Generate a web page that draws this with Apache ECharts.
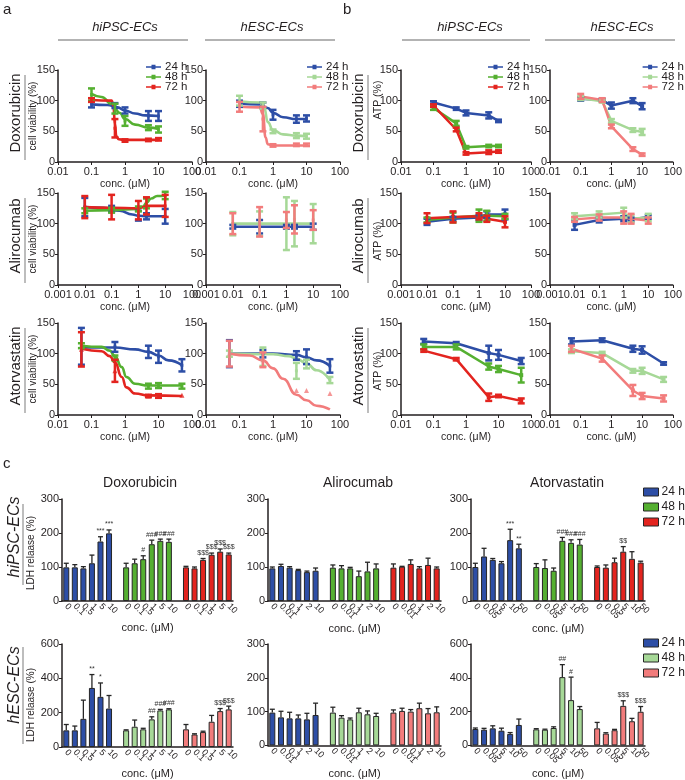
<!DOCTYPE html>
<html><head><meta charset="utf-8">
<script src="https://cdn.jsdelivr.net/npm/echarts@6/dist/echarts.min.js"></script>
<style>html,body{margin:0;padding:0;background:#fff}#chart{width:685px;height:780px}</style>
</head><body><div id="chart"></div>
<script>
// ================= DATA =================
const timeLabels = ['24 h', '48 h', '72 h'];
const drugs = ['Doxorubicin', 'Alirocumab', 'Atorvastatin'];
const cellLines = ['hiPSC-ECs', 'hESC-ECs'];

const concDox = [0.1, 0.5, 1, 5, 10];
const concAli = [0.01, 0.1, 1, 2, 10];
const concAtor = [0.05, 0.5, 5, 10, 50];

// ---- a: cell viability (%) — rows: 24 h, 48 h, 72 h ----
const viabIpscDox = [[94, 92, 84, 75, 75], [110, 87, 67, 56, 53], [101, 55, 35, 36, 37]];
const viabIpscDoxErr = [[5, 4, 5, 8, 8], [10, 8, 8, 4, 5], [3, 15, 2, 2, 2]];
const viabIpscDoxFit = [
  [[0.1, 94], [0.3, 93], [0.6, 89], [1, 84], [2, 79], [4, 76], [10, 75]],
  [[0.1, 111], [0.2, 106], [0.4, 95], [0.7, 80], [1, 70], [2, 61], [5, 56], [10, 54]],
  [[0.1, 101], [0.4, 100], [0.45, 92], [0.5, 62], [0.55, 42], [0.65, 37], [1, 36], [10, 36]]
];
const viabHescDox = [[95, 93, 77, 70, 71], [100, 92, 50, 43, 42], [90, 70, 27, 28, 28]];
const viabHescDoxErr = [[5, 4, 8, 6, 5], [8, 5, 3, 4, 4], [8, 20, 2, 2, 2]];
const viabHescDoxFit = [
  [[0.1, 95], [0.4, 94], [0.7, 88], [1, 80], [2, 73], [5, 70], [10, 70]],
  [[0.1, 99], [0.4, 97], [0.55, 88], [0.7, 65], [1, 52], [2, 45], [5, 43], [10, 42]],
  [[0.1, 90], [0.4, 89], [0.5, 78], [0.6, 40], [0.7, 29], [1, 27], [10, 27]]
];
const viabIpscAli = [[127, 124, 113, 112, 112], [121, 122, 124, 133, 146], [127, 127, 122, 129, 129]];
const viabIpscAliErr = [[15, 5, 8, 5, 12], [4, 4, 4, 8, 6], [18, 20, 15, 14, 18]];
const viabIpscAliFit = [
  [[0.01, 127], [0.05, 126], [0.2, 121], [0.6, 115], [1, 113], [2, 112], [10, 112]],
  [[0.01, 121], [0.1, 122], [1, 124], [1.5, 128], [2, 134], [3, 141], [5, 145], [10, 146]],
  [[0.01, 127], [0.1, 126], [1, 125], [1.5, 127], [2, 129], [10, 129]]
];
const viabHescAli = [[95, 95, 95, 95, 95], [100, 100, 100, 100, 100], [100, 103, 106, 107, 106]];
const viabHescAliErr = [[3, 11, 3, 3, 5], [19, 20, 43, 37, 32], [17, 24, 13, 23, 16]];
const viabHescAliFit = [
  [[0.01, 95], [10, 95]],
  [[0.01, 100], [10, 100]],
  []
];
const viabIpscAtor = [[112, 111, 103, 95, 81], [113, 93, 47, 48, 47], [107, 72, 31, 31, 32]];
const viabIpscAtorErr = [[30, 8, 10, 10, 10], [4, 4, 4, 4, 4], [28, 18, 2, 3, 0]];
const viabIpscAtorFit = [
  [[0.05, 110], [0.5, 110], [2, 107], [5, 103], [10, 97], [20, 89], [50, 81]],
  [[0.05, 113], [0.2, 111], [0.35, 105], [0.5, 96], [0.8, 78], [1.1, 62], [2, 51], [5, 48], [50, 48]],
  [[0.05, 108], [0.2, 104], [0.35, 96], [0.5, 86], [0.8, 62], [1.1, 45], [2, 35], [5, 32], [50, 31]]
];
const viabHescAtor = [[100, 100, 97, 95, 80], [100, 95, 72, 83, 57], [100, 90, 40, 40, 35]];
const viabHescAtorErr = [[22, 6, 7, 12, 11], [5, 15, 13, 7, 5], [21, 12, 0, 0, 0]];
const viabHescAtorFit = [
  [[0.05, 100], [1, 100], [5, 98], [10, 94], [20, 89], [50, 80]],
  [[0.05, 100], [1, 99], [3, 96], [5, 92], [10, 84], [20, 73], [50, 57]],
  [[0.05, 100], [0.2, 97], [0.5, 89], [1, 76], [2, 59], [5, 33], [10, 24], [20, 15], [50, 9]]
];

// ---- b: ATP (%) ----
const atpIpscDox = [[97, 87, 80, 76, 67], [88, 63, 24, 26, 26], [92, 53, 14, 16, 17]];
const atpIpscDoxErr = [[2, 2, 4, 5, 2], [3, 4, 2, 2, 2], [2, 3, 2, 3, 2]];
const atpHescDox = [[103, 101, 92, 100, 91], [104, 99, 67, 52, 49], [107, 101, 58, 21, 12]];
const atpHescDoxErr = [[3, 2, 5, 4, 5], [3, 2, 3, 3, 5], [4, 3, 3, 3, 2]];
const atpIpscAli = [[103, 108, 110, 115, 115], [106, 110, 113, 113, 112], [109, 111, 112, 108, 103]];
const atpIpscAliErr = [[5, 3, 4, 5, 8], [4, 8, 10, 8, 4], [8, 9, 5, 5, 9]];
const atpHescAli = [[98, 106, 108, 107, 111], [112, 115, 118, 108, 110], [107, 110, 110, 108, 105]];
const atpHescAliErr = [[8, 4, 4, 3, 3], [5, 5, 8, 6, 6], [4, 5, 10, 8, 5]];
const atpIpscAtor = [[120, 117, 101, 98, 88], [111, 111, 79, 75, 65], [105, 91, 29, 31, 23]];
const atpIpscAtorErr = [[4, 2, 12, 8, 5], [4, 4, 5, 5, 12], [2, 2, 6, 2, 4]];
const atpHescAtor = [[120, 122, 108, 106, 84], [104, 101, 72, 72, 58], [108, 92, 40, 31, 27]];
const atpHescAtorErr = [[5, 3, 5, 6, 2], [3, 2, 3, 5, 4], [5, 5, 9, 5, 5]];

// ---- c: LDH release (%) ----
const ldhConcDox = ['0', '0.1', '0.5', '1', '5', '10'];
const ldhConcAli = ['0', '0.01', '0.1', '1', '2', '10'];
const ldhConcAtor = ['0', '0.05', '0.5', '5', '10', '50'];

const ldhIpscDox = [[99, 99, 96, 111, 175, 199], [99, 111, 123, 167, 177, 174], [99, 96, 121, 136, 145, 137]];
const ldhIpscDoxErr = [[12, 8, 5, 24, 14, 10], [12, 12, 10, 12, 5, 8], [3, 4, 4, 5, 8, 4]];
const ldhIpscDoxSig = [['', '', '', '', '***', '***'], ['', '', '#', '###', '###', '###'], ['', '', '$$$', '$$$', '$$$', '$$$']];
const ldhIpscAli = [[96, 103, 98, 91, 85, 89], [98, 96, 96, 73, 87, 96], [98, 101, 109, 96, 106, 96]];
const ldhIpscAliErr = [[4, 5, 3, 2, 3, 8], [8, 8, 3, 15, 27, 13], [11, 1, 12, 5, 20, 4]];
const ldhIpscAtor = [[100, 131, 121, 111, 179, 155], [100, 97, 89, 177, 171, 166], [100, 98, 114, 145, 124, 113]];
const ldhIpscAtorErr = [[11, 24, 4, 5, 32, 12], [10, 24, 8, 10, 9, 15], [3, 8, 12, 15, 21, 4]];
const ldhIpscAtorSig = [['', '', '', '', '***', '**'], ['', '', '', '###', '###', '###'], ['', '', '', '$$', '', '']];

const ldhHescDox = [[97, 97, 164, 344, 292, 224], [97, 118, 103, 161, 213, 219], [103, 73, 87, 147, 209, 219]];
const ldhHescDoxErr = [[34, 25, 109, 78, 81, 76], [3, 39, 6, 15, 6, 4], [28, 4, 5, 37, 15, 19]];
const ldhHescDoxSig = [['', '', '', '**', '*', ''], ['', '', '', '##', '###', '###'], ['', '', '', '', '$$$', '$$$']];
const ldhHescAli = [[97, 83, 80, 80, 77, 90], [97, 82, 77, 98, 92, 87], [97, 102, 100, 110, 95, 98]];
const ldhHescAliErr = [[10, 18, 18, 10, 18, 35], [16, 6, 4, 12, 10, 8], [8, 8, 6, 15, 14, 16]];
const ldhHescAtor = [[97, 93, 101, 87, 68, 121], [95, 93, 103, 404, 268, 215], [101, 70, 90, 234, 143, 199]];
const ldhHescAtorErr = [[6, 8, 15, 15, 8, 35], [4, 3, 7, 74, 136, 15], [35, 5, 5, 30, 17, 31]];
const ldhHescAtorSig = [['', '', '', '', '', ''], ['', '', '', '##', '#', ''], ['', '', '', '$$$', '', '$$$']];

// ================= STYLE =================
const FONT = '"Liberation Sans", Arial, Helvetica, sans-serif';
const AX = '#231f20';
const TXT = '#231f20';
const COL_IPSC = ['#2d4ea6', '#55b031', '#e3241f'];
const COL_HESC = ['#2d4ea6', '#a6d897', '#f27c7c'];
const LINE_ICON = 'path://M0,2.3H5.5V0.8H9.5V2.3H15V3.7H9.5V5.2H5.5V3.7H0Z';

const option = {
  animation: false,
  backgroundColor: '#fff',
  textStyle: { fontFamily: FONT },
  grid: [], xAxis: [], yAxis: [], series: [], legend: [], graphic: []
};

function fmtLog(v) { return String(parseFloat(Number(v).toPrecision(3))); }

function errSeries(g, pts, errs, col, lw, cap, both, sig) {
  return {
    type: 'custom', xAxisIndex: g, yAxisIndex: g, z: 6, silent: true,
    data: pts.map((p, i) => [p[0], p[1], errs[i]]),
    encode: { x: 0, y: 1 },
    renderItem: function (params, api) {
      const x = api.value(0), y = api.value(1), e = api.value(2);
      const s = sig ? sig[params.dataIndex] : '';
      const top = api.coord([x, y + e]);
      const ch = [];
      if (e > 0) {
        const bot = api.coord([x, both ? y - e : y]);
        const st = { stroke: col, lineWidth: lw };
        ch.push({ type: 'line', shape: { x1: top[0], y1: top[1], x2: top[0], y2: bot[1] }, style: st });
        ch.push({ type: 'line', shape: { x1: top[0] - cap, y1: top[1], x2: top[0] + cap, y2: top[1] }, style: st });
        if (both) ch.push({ type: 'line', shape: { x1: top[0] - cap, y1: bot[1], x2: top[0] + cap, y2: bot[1] }, style: st });
      }
      if (s) ch.push({ type: 'text', x: top[0], y: top[1] - 2, style: { text: s, fontSize: 7, fontFamily: FONT, fill: '#333', align: 'center', verticalAlign: 'bottom' } });
      return { type: 'group', children: ch };
    }
  };
}

function lineLegend(pos, colors) {
  const leg = {
    orient: 'vertical', top: pos[1], itemWidth: 15, itemHeight: 6, itemGap: -2,
    selectedMode: false, icon: LINE_ICON, padding: 0,
    textStyle: { fontSize: 11.5, lineHeight: 10, color: TXT, fontFamily: FONT, padding: [0, 0, 0, -1] },
    data: timeLabels.map((t, k) => ({ name: t, icon: LINE_ICON, itemStyle: { color: colors[k] }, lineStyle: { color: colors[k], width: 0, opacity: 0 } }))
  };
  if (pos[0] < 0) leg.right = -pos[0]; else leg.left = pos[0];
  option.legend.push(leg);
}

function addLinePanel(p) {
  const g = option.grid.length;
  option.grid.push({ left: p.left, top: p.top, width: p.width, height: 92 });
  option.xAxis.push({
    gridIndex: g, type: 'log', logBase: 10, min: p.xmin, max: 100, splitNumber: 6,
    axisLine: { show: true, onZero: false, lineStyle: { color: AX, width: 1.5 } },
    axisTick: { show: true, length: 3, lineStyle: { color: AX, width: 1 } },
    minorTick: { show: false }, splitLine: { show: false },
    axisLabel: { fontSize: 11, color: TXT, margin: 4, formatter: fmtLog, showMinLabel: true, showMaxLabel: true },
    name: 'conc. (μM)', nameLocation: 'middle', nameGap: 17,
    nameTextStyle: { fontSize: 10.5, color: TXT }
  });
  option.yAxis.push({
    gridIndex: g, type: 'value', min: 0, max: 150, interval: 50,
    axisLine: { show: true, lineStyle: { color: AX, width: 1.5 } },
    axisTick: { show: true, length: 3, lineStyle: { color: AX, width: 1 } },
    splitLine: { show: false },
    axisLabel: { fontSize: 11, color: TXT, margin: 3 }
  });
  for (let k = 0; k < 3; k++) {
    const col = p.colors[k];
    const pts = p.xs.map((x, i) => [x, p.means[k][i]]);
    if (p.fits) {
      if (p.fits[k].length) {
        option.series.push({
          type: 'line', name: timeLabels[k], xAxisIndex: g, yAxisIndex: g, data: p.fits[k],
          smooth: 0.5, smoothMonotone: 'x', showSymbol: false, symbol: 'rect', symbolSize: 4,
          lineStyle: { color: col, width: 2.6 }, itemStyle: { color: col }, z: 2 + (k === 1 && p.greenTop ? 3 : 0)
        });
      }
      option.series.push({
        type: 'scatter', name: timeLabels[k], xAxisIndex: g, yAxisIndex: g, data: pts,
        symbol: (p.tri && k === 2) ? 'triangle' : 'rect', symbolSize: (p.tri && k === 2) ? 5 : 3,
        itemStyle: { color: col }, z: 3
      });
    } else {
      option.series.push({
        type: 'line', name: timeLabels[k], xAxisIndex: g, yAxisIndex: g, data: pts,
        symbol: 'rect', symbolSize: 4, showSymbol: true,
        lineStyle: { color: col, width: 2.5 }, itemStyle: { color: col }, z: 2
      });
    }
    option.series.push(errSeries(g, pts, p.errs[k], col, 2.5, 3.5, true, null));
  }
  if (p.legend) lineLegend(p.legend, p.colors);
}

function addBarPanel(p) {
  const g = option.grid.length;
  option.grid.push({ left: p.left, top: p.top, width: p.width, height: p.height });
  const labels = [];
  for (let k = 0; k < 3; k++) { labels.push(...p.concs); if (k < 2) labels.push(''); }
  const cats = labels.map((_, i) => 'c' + i);
  option.xAxis.push({
    gridIndex: g, type: 'category', data: cats,
    axisLine: { show: true, lineStyle: { color: AX, width: 1.5 } },
    axisTick: { show: false },
    axisLabel: { interval: 0, rotate: -45, fontSize: 9, color: TXT, margin: 4, formatter: (v, i) => labels[i] },
    name: 'conc. (μM)', nameLocation: 'middle', nameGap: 21,
    nameTextStyle: { fontSize: 11, color: TXT }
  });
  option.yAxis.push({
    gridIndex: g, type: 'value', min: 0, max: p.ymax, interval: p.ymax / 3,
    axisLine: { show: true, lineStyle: { color: AX, width: 1.5 } },
    axisTick: { show: true, length: 3, lineStyle: { color: AX } },
    splitLine: { show: false },
    axisLabel: { fontSize: 11, color: TXT, margin: 3 }
  });
  for (let k = 0; k < 3; k++) {
    const col = p.colors[k];
    const arr = cats.map(() => null);
    const pts = [];
    p.means[k].forEach((v, i) => { arr[k * 7 + i] = v; pts.push([k * 7 + i, v]); });
    option.series.push({
      type: 'bar', name: 'LDH ' + timeLabels[k], xAxisIndex: g, yAxisIndex: g, data: arr,
      barWidth: 6, barGap: '-100%',
      itemStyle: { color: col, borderColor: '#262626', borderWidth: 1 }, z: 2
    });
    option.series.push(errSeries(g, pts, p.errs[k], '#262626', 1.3, 2.5, false, p.sig ? p.sig[k] : null));
  }
  if (p.legend) {
    option.legend.push({
      orient: 'vertical', left: p.legend[0], top: p.legend[1], itemWidth: 15, itemHeight: 8, itemGap: 3,
      selectedMode: false, icon: 'rect', padding: 0,
      formatter: n => n.replace('LDH ', ''),
      textStyle: { fontSize: 12, color: TXT, fontFamily: FONT, padding: [0, 0, 0, -2] },
      data: timeLabels.map((t, k) => ({ name: 'LDH ' + t, itemStyle: { color: p.colors[k], borderColor: '#262626', borderWidth: 1 } }))
    });
  }
}

// ---- panel a & b ----
const rowTops = [70, 193, 323];
const aCols = [{ left: 58, width: 134 }, { left: 206, width: 134 }];
const bCols = [{ left: 401, width: 130 }, { left: 550, width: 130 }];

const viabSets = [
  [[viabIpscDox, viabIpscDoxErr, viabIpscDoxFit], [viabHescDox, viabHescDoxErr, viabHescDoxFit]],
  [[viabIpscAli, viabIpscAliErr, viabIpscAliFit], [viabHescAli, viabHescAliErr, viabHescAliFit]],
  [[viabIpscAtor, viabIpscAtorErr, viabIpscAtorFit], [viabHescAtor, viabHescAtorErr, viabHescAtorFit]]
];
const atpSets = [
  [[atpIpscDox, atpIpscDoxErr], [atpHescDox, atpHescDoxErr]],
  [[atpIpscAli, atpIpscAliErr], [atpHescAli, atpHescAliErr]],
  [[atpIpscAtor, atpIpscAtorErr], [atpHescAtor, atpHescAtorErr]]
];
const rowConc = [concDox, concAli, concAtor];
const rowXmin = [0.01, 0.001, 0.01];
const aLegendPos = [[146, 61], [307, 61]];
const bLegendPos = [[488, 61], [-1, 61]];

for (let r = 0; r < 3; r++) {
  for (let c = 0; c < 2; c++) {
    const cols = c === 0 ? COL_IPSC : COL_HESC;
    const vs = viabSets[r][c];
    addLinePanel({
      left: aCols[c].left, width: aCols[c].width, top: rowTops[r], xmin: rowXmin[r], xs: rowConc[r],
      means: vs[0], errs: vs[1], fits: vs[2], colors: cols,
      tri: r === 2, greenTop: (r === 1 && c === 1),
      legend: r === 0 ? aLegendPos[c] : null
    });
    const bs = atpSets[r][c];
    addLinePanel({
      left: bCols[c].left, width: bCols[c].width, top: rowTops[r], xmin: rowXmin[r], xs: rowConc[r],
      means: bs[0], errs: bs[1], fits: null, colors: cols,
      legend: r === 0 ? bLegendPos[c] : null
    });
  }
}

// ---- panel c ----
const barCols = [{ left: 62, width: 171 }, { left: 268, width: 173 }, { left: 471, width: 174 }];
const barRows = [{ top: 499, height: 102 }, { top: 644, height: 104 }];
const ldhSets = [
  [[ldhIpscDox, ldhIpscDoxErr, ldhIpscDoxSig, ldhConcDox, 300], [ldhIpscAli, ldhIpscAliErr, null, ldhConcAli, 300], [ldhIpscAtor, ldhIpscAtorErr, ldhIpscAtorSig, ldhConcAtor, 300]],
  [[ldhHescDox, ldhHescDoxErr, ldhHescDoxSig, ldhConcDox, 600], [ldhHescAli, ldhHescAliErr, null, ldhConcAli, 300], [ldhHescAtor, ldhHescAtorErr, ldhHescAtorSig, ldhConcAtor, 600]]
];
for (let r = 0; r < 2; r++) {
  for (let c = 0; c < 3; c++) {
    const s = ldhSets[r][c];
    addBarPanel({
      left: barCols[c].left, width: barCols[c].width, top: barRows[r].top, height: barRows[r].height,
      means: s[0], errs: s[1], sig: s[2], concs: s[3], ymax: s[4],
      colors: r === 0 ? COL_IPSC : COL_HESC,
      legend: c === 2 ? [643, r === 0 ? 486 : 637] : null
    });
  }
}

// ---- annotations (text / decorations) ----
const G = option.graphic;
function txt(x, y, text, size, opt) {
  opt = opt || {};
  G.push({
    type: 'text', x: x, y: y, rotation: opt.rot || 0, silent: true, z: 100,
    style: {
      text: text, fontSize: size, fontFamily: FONT, fontStyle: opt.italic ? 'italic' : 'normal',
      fill: opt.fill || TXT, align: opt.align || 'center', verticalAlign: 'middle'
    }
  });
}
function seg(x1, y1, x2, y2, col, w) {
  G.push({ type: 'line', silent: true, z: 100, shape: { x1: x1, y1: y1, x2: x2, y2: y2 }, style: { stroke: col || '#9a9a9a', lineWidth: w || 1.3 } });
}
const ROT = Math.PI / 2;

// panel letters
txt(3, 10, 'a', 15, { align: 'left' });
txt(343, 10, 'b', 15, { align: 'left' });
txt(3, 464, 'c', 15, { align: 'left' });

// headers
txt(125, 27, cellLines[0], 13, { italic: true }); seg(58, 40, 188, 40);
txt(272, 27, cellLines[1], 13, { italic: true }); seg(205, 40, 335, 40);
txt(470, 27, cellLines[0], 13, { italic: true }); seg(402, 40, 530, 40);
txt(622, 27, cellLines[1], 13, { italic: true }); seg(545, 40, 675, 40);

// row labels a & b
for (let r = 0; r < 3; r++) {
  const t = rowTops[r];
  txt(16, t + 43, drugs[r], 15, { rot: ROT });
  seg(25, t + 5, 25, t + 90);
  txt(33, t + 46, 'cell viability (%)', 10, { rot: ROT });
  txt(359, t + 43, drugs[r], 15, { rot: ROT });
  seg(368, t + 5, 368, t + 90);
  txt(378, r === 0 ? t + 30 : t + 48, 'ATP (%)', 10.5, { rot: ROT });
}

// panel c titles and row labels
txt(140, 483, drugs[0], 14);
txt(358, 483, drugs[1], 14);
txt(567, 483, drugs[2], 14);
txt(15, 537, cellLines[0], 16, { rot: ROT, italic: true });
seg(23, 504, 23, 585);
txt(31, 553, 'LDH relaase (%)', 10, { rot: ROT });
txt(15, 685, cellLines[1], 16, { rot: ROT, italic: true });
seg(23, 647, 23, 744);
txt(31, 705, 'LDH relaase (%)', 10, { rot: ROT });

const chart = echarts.init(document.getElementById('chart'), null, { renderer: 'canvas' });
chart.setOption(option);
</script>
</body></html>
